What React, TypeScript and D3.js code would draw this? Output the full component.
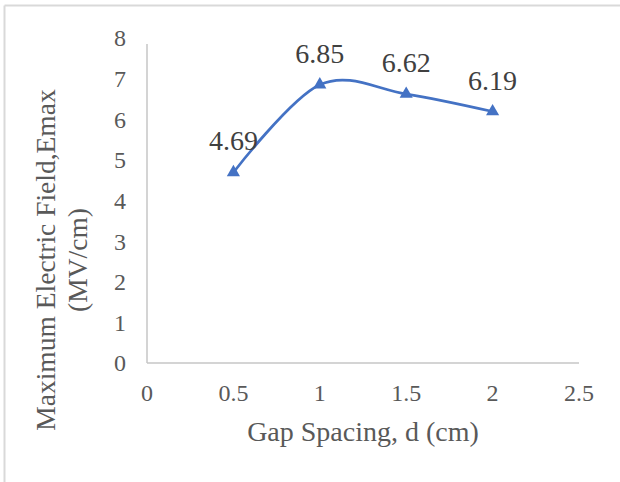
import React from "react";
import * as d3 from "d3";

const gapSpacing = [0.5, 1, 1.5, 2];
const emax = [4.69, 6.85, 6.62, 6.19];
const xTicks = [0, 0.5, 1, 1.5, 2, 2.5];
const yTicks = [0, 1, 2, 3, 4, 5, 6, 7, 8];

const W = 620;
const H = 482;
const FONT = "'Liberation Serif', 'Times New Roman', serif";

export default function App() {
  const x = d3.scaleLinear().domain([0, 2.5]).range([147, 579]);
  const y = d3.scaleLinear().domain([0, 8]).range([363, 38]);
  const pts = gapSpacing.map((d, i) => [x(d), y(emax[i])] as [number, number]);
  const line = d3.line().curve(d3.curveCardinal.tension(0))(pts) || "";
  const tri = d3.symbol().type(d3.symbolTriangle).size(75)() || "";

  return (
    <svg
      width={W}
      height={H}
      style={{ position: "absolute", left: 0, top: 0, background: "#fff" }}
    >
      <rect x={0} y={0} width={W} height={H} fill="#fff" />
      <line x1={4.5} y1={5.5} x2={W} y2={5.5} stroke="#d9d9d9" strokeWidth={2} />
      <line x1={4.5} y1={5.5} x2={4.5} y2={H} stroke="#d9d9d9" strokeWidth={2} />

      <line x1={x(0)} y1={y(0)} x2={x(2.5)} y2={y(0)} stroke="#c6c6c6" strokeWidth={1.5} />
      <line x1={x(0)} y1={y(0)} x2={x(0)} y2={y(8) + 6} stroke="#c6c6c6" strokeWidth={1.5} />

      {yTicks.map((t) => (
        <text
          key={"y" + t}
          x={126}
          y={y(t)}
          dy="0.35em"
          textAnchor="end"
          fontFamily={FONT}
          fontSize={24}
          fill="#595959"
        >
          {t}
        </text>
      ))}
      {xTicks.map((t) => (
        <text
          key={"x" + t}
          x={x(t)}
          y={401}
          textAnchor="middle"
          fontFamily={FONT}
          fontSize={24}
          fill="#595959"
        >
          {t}
        </text>
      ))}

      <path d={line} fill="none" stroke="#4472C4" strokeWidth={2.75} />
      {pts.map((p, i) => (
        <path key={"m" + i} d={tri} transform={`translate(${p[0]},${p[1]})`} fill="#4472C4" />
      ))}
      {pts.map((p, i) => (
        <text
          key={"l" + i}
          x={p[0]}
          y={p[1] - 22}
          textAnchor="middle"
          fontFamily={FONT}
          fontSize={28}
          fill="#404040"
        >
          {emax[i].toFixed(2)}
        </text>
      ))}

      <text
        x={363}
        y={441}
        textAnchor="middle"
        fontFamily={FONT}
        fontSize={28}
        fill="#595959"
      >
        Gap Spacing, d (cm)
      </text>
      <g transform="translate(0,260) rotate(-90)">
        <text x={0} y={55} textAnchor="middle" fontFamily={FONT} fontSize={27.5} fill="#595959">
          Maximum Electric Field,Emax
        </text>
        <text x={0} y={87} textAnchor="middle" fontFamily={FONT} fontSize={27.5} fill="#595959">
          (MV/cm)
        </text>
      </g>
    </svg>
  );
}
